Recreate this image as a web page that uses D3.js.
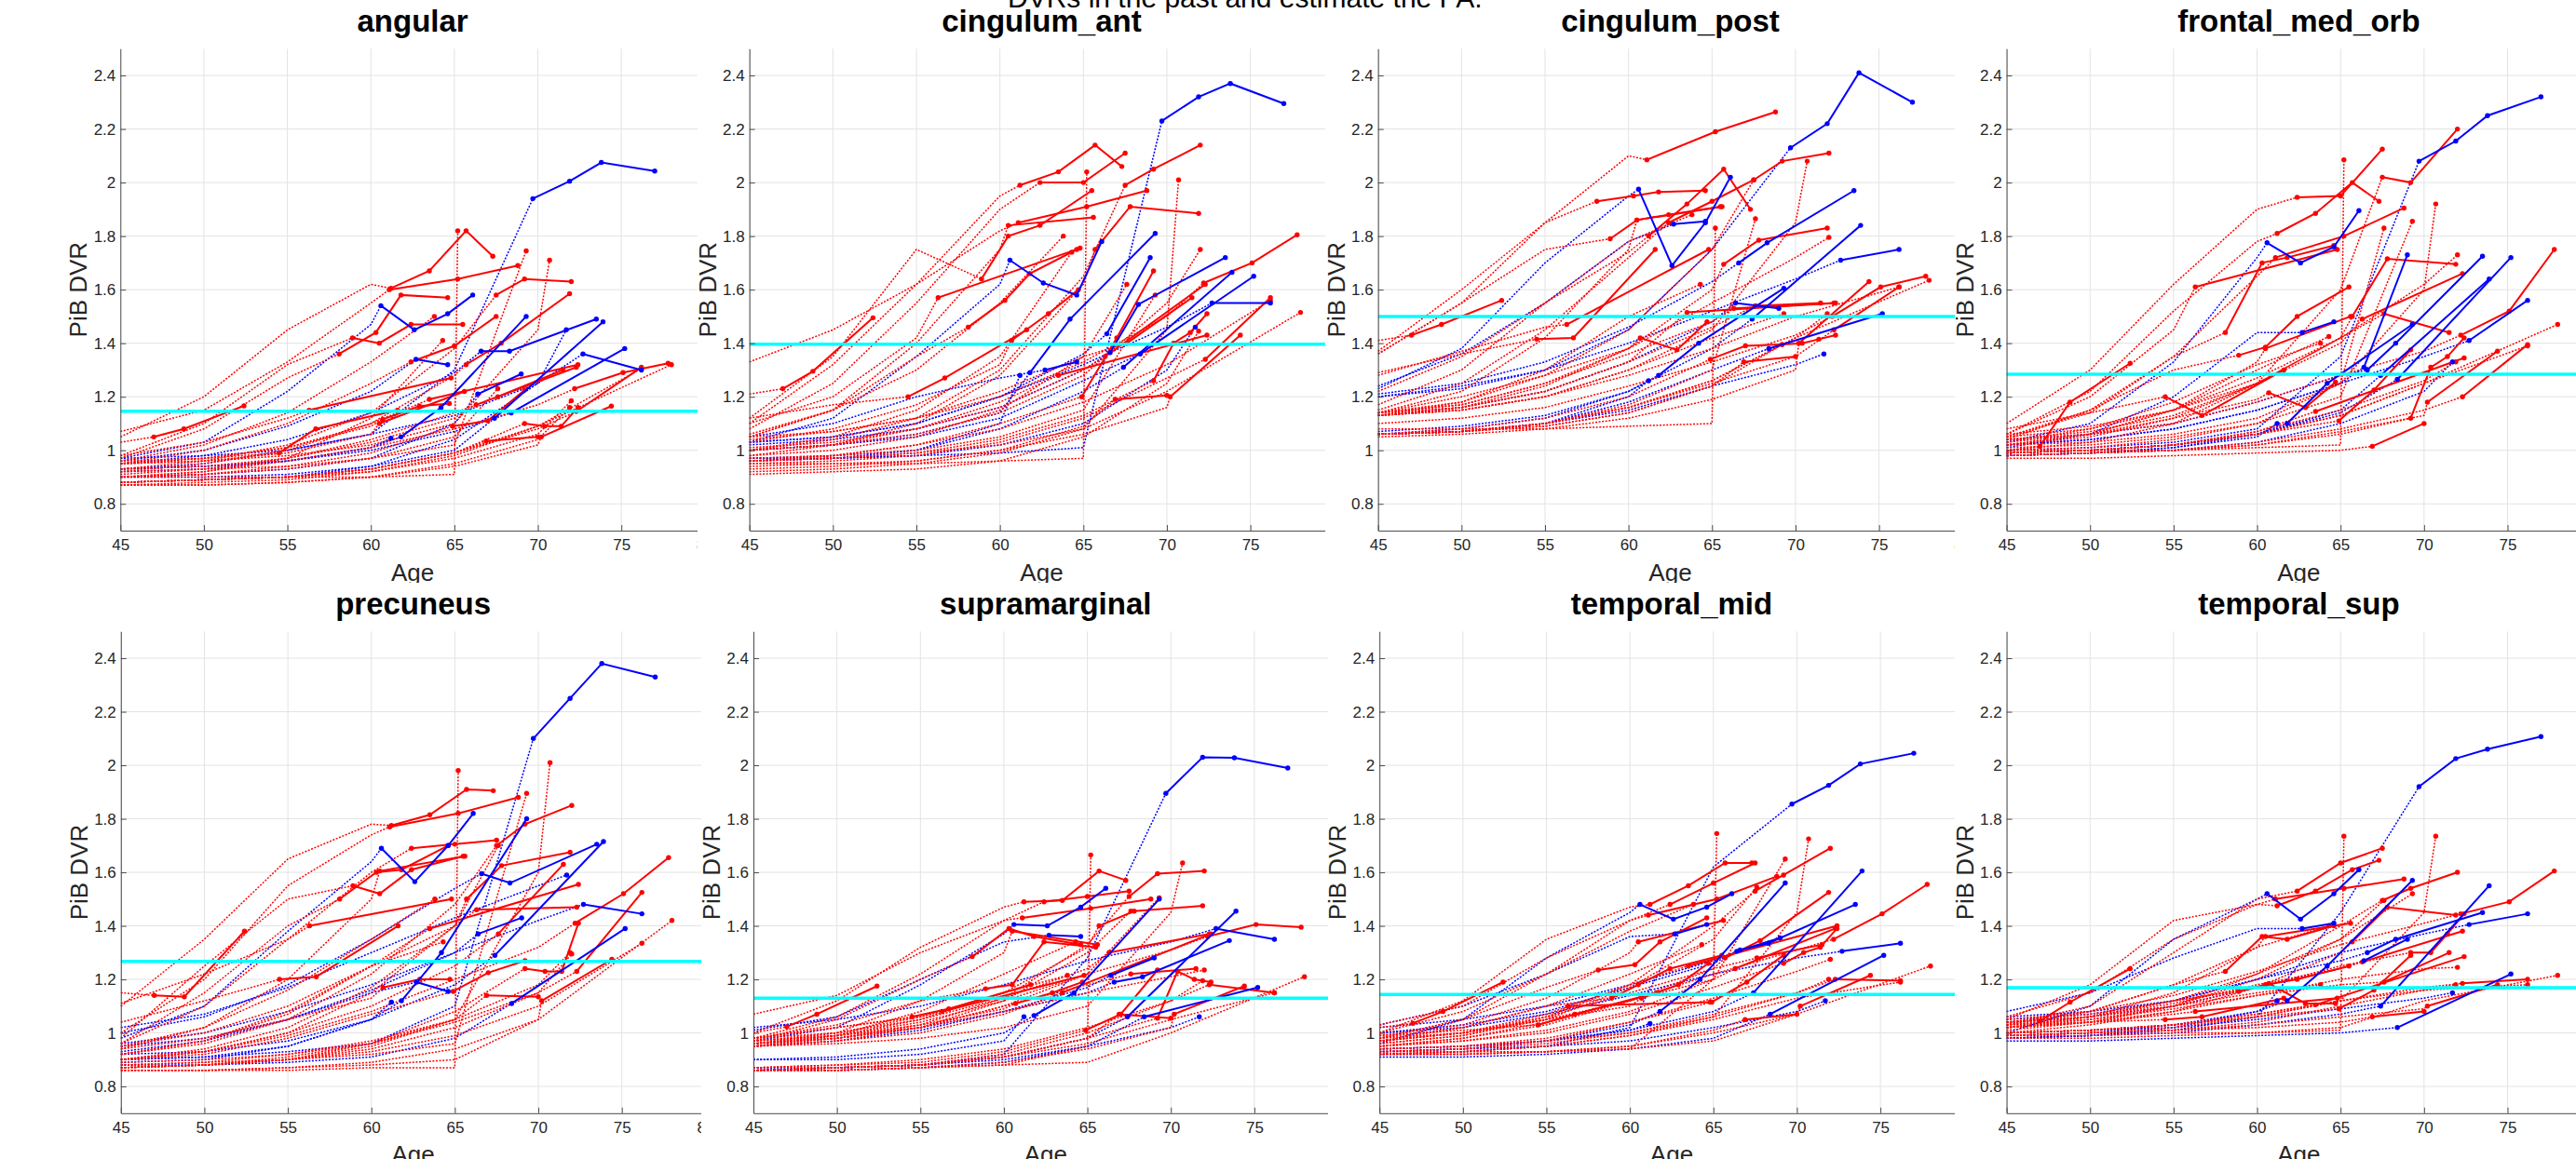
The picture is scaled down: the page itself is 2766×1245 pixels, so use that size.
<!DOCTYPE html>
<html><head><meta charset="utf-8">
<script src="https://cdn.jsdelivr.net/npm/d3@7"></script>
<style>html,body{margin:0;padding:0;background:#fff;overflow:hidden}svg{display:block}</style>
</head><body>
<svg id="chart" width="2766" height="1245"></svg>
<script>
// ---------------- DATA ----------------
const regions = ["angular","cingulum_ant","cingulum_post","frontal_med_orb","precuneus","supramarginal","temporal_mid","temporal_sup"];
const thresholds = [1.146,1.396,1.50,1.284,1.267,1.130,1.144,1.169];
const xTicks = [45,50,55,60,65,70,75,80];
const yTicks = [0.8,1,1.2,1.4,1.6,1.8,2,2.2,2.4];
const knotAges = [45,50,55,60,65,70];
const subjectColor = ["b","b","b","b","b","b","b","b","b","b","b",
  "r","r","r","r","r","r","r","r","r","r","r","r","r","r","r","r","r","r","r","r","r","r","r","r","r","r","r","r","r","r","r"];
const visitAges = [
[69.7,71.9,73.8,77.0],[60.6,62.6,64.6,66.1],[61.8,64.2,69.3],[66.4,69.0],[66.6,68.3,73.5],[67.4,73.9],[68.4,75.2],[72.7,76.2],[62.7,64.6],[61.2],[71.7],
[47.0,48.8,52.4],[54.5,56.7,61.6],[56.3,64.8],[58.1,60.3,61.8,64.6],[58.9,60.5,62.4,65.5],[61.2,63.5,65.7,67.3],[61.1,65.2,68.8],[62.4,65.0,67.5],[60.5,65.6],[67.5,69.2,72.0],
[65.7,67.8,71.9],[63.5,72.4],[66.9,70.0],[69.2,70.4,71.4,72.4],[70.2,74.4],[72.2,75.1,77.8],[72.3,76.2],[64.9,67.0,69.2],[60.7,62.9,64.7],[64.3],
[65.2],[63.8],[67.6],[69.3],[70.7],[72.0],[71.9],[78.0],[76.2],[66.3,72.3],[67.6,71.5]];

// estimated past trajectories (values at knotAges before first visit)
const angularPast = [
[0.97,0.98,1.00,1.06,1.30],[0.97,1.03,1.22,1.47],[0.92,0.93,0.96,1.01],[0.90,0.91,0.93,0.97,1.10],[0.95,0.98,1.04,1.14,1.29],[0.90,0.90,0.91,0.94,1.00],[0.93,0.94,0.96,1.00,1.07],[0.93,0.95,1.00,1.06,1.13,1.25],[0.96,1.00,1.09,1.22],[0.93,0.94,0.96,1.01],[0.88,0.89,0.90,0.94,1.04,1.25],
[1.03],[0.96,0.97],[0.98,1.03,1.12],[0.97,1.08,1.27],[0.98,1.10,1.32],[1.05,1.20,1.45,1.62],[1.07,1.15,1.33,1.55],[0.95,1.00,1.10,1.25],[0.95,0.96,0.99,1.06],[0.93,0.96,1.02,1.14,1.38],
[0.92,0.95,1.00,1.10,1.28],[0.95,0.97,1.01,1.10],[0.88,0.89,0.90,0.93,0.99],[0.88,0.89,0.90,0.93,0.99],[0.87,0.87,0.88,0.90,0.94,1.02],[0.90,0.92,0.96,1.01,1.08,1.17],[0.88,0.89,0.90,0.93,0.99,1.08],[0.90,0.91,0.94,0.99],[0.95,0.97,1.01,1.09],[0.90,0.92,0.97,1.12],
[0.90,0.90,0.90,0.90,0.91],[0.96,1.02,1.14,1.33],[0.90,0.91,0.93,0.97,1.05],[0.92,0.93,0.94,0.97,1.02],[0.95,0.96,0.98,1.02,1.10,1.45],[0.88,0.89,0.90,0.92,0.97,1.06],[0.87,0.87,0.88,0.90,0.95,1.04],[0.88,0.89,0.90,0.93,0.99,1.09],[0.87,0.88,0.89,0.92,0.98,1.09],[0.93,0.94,0.97,1.03,1.12],[0.91,0.93,0.97,1.04,1.14]];
const angularObs = [
[1.94,2.005,2.075,2.043],[1.54,1.45,1.51,1.58],[1.05,1.16,1.50],[1.21,1.285],[1.37,1.37,1.49],[1.12,1.48],[1.14,1.38],[1.36,1.30],[1.34,1.32],[1.045],[1.45],
[1.05,1.08,1.166],[0.99,1.08,1.15],[1.15,1.27],[1.36,1.44,1.58,1.57],[1.42,1.40,1.47,1.47],[1.605,1.67,1.82,1.725],[1.60,1.64,1.69],[1.33,1.39,1.50],[1.10,1.22],[1.58,1.64,1.63],
[1.32,1.40,1.585],[1.19,1.32],[1.035,1.05],[1.10,1.09,1.09,1.16],[1.05,1.165],[1.23,1.29,1.325],[1.145,1.31],[1.09,1.11,1.225],[1.115,1.165,1.175],[1.41],
[1.82],[1.50],[1.23],[1.745],[1.71],[1.185],[1.16],[1.32],[1.305],[1.17,1.31],[1.20,1.30]];

const cingAntPast = [
[0.97,0.97,0.98,0.99,1.01],[1.03,1.12,1.35,1.62],[1.00,1.02,1.06,1.14],[1.03,1.05,1.10,1.20,1.36],[1.02,1.04,1.08,1.16,1.30],[0.97,0.98,1.00,1.08,1.22],[1.00,1.02,1.05,1.12,1.26],[1.03,1.05,1.10,1.20,1.32,1.46],[1.05,1.10,1.20,1.27],[0.96,0.97,1.00,1.10],[0.96,0.97,0.98,1.02,1.10,1.30],
[1.21],[1.12,1.17],[1.10,1.20,1.42],[1.05,1.15,1.35],[1.12,1.35,1.75],[1.10,1.32,1.62,1.95],[1.33,1.45,1.62,1.82],[1.08,1.25,1.55,1.90],[1.05,1.15,1.40,1.75],[1.00,1.04,1.12,1.30,1.65],
[0.98,1.02,1.10,1.28,1.62],[1.00,1.02,1.08,1.18],[0.94,0.95,0.96,1.00,1.09],[0.96,0.97,0.99,1.04,1.13],[0.93,0.94,0.96,1.00,1.06,1.16],[1.05,1.07,1.12,1.20,1.33,1.50],[0.95,0.96,0.98,1.03,1.12,1.27],[0.96,0.98,1.02,1.10],[1.03,1.08,1.17,1.32],[1.00,1.05,1.15,1.35],
[0.95,0.95,0.95,0.96,0.97],[1.06,1.15,1.30,1.55],[0.98,1.00,1.05,1.15,1.35],[0.97,0.98,1.00,1.05,1.15],[0.96,0.97,0.99,1.02,1.08,1.45],[1.00,1.02,1.06,1.14,1.28,1.55],[0.91,0.92,0.93,0.96,1.05,1.25],[0.92,0.93,0.95,0.99,1.08,1.22],[0.96,0.98,1.02,1.08,1.18,1.32],[1.01,1.03,1.08,1.16,1.30],[1.04,1.07,1.12,1.22,1.35]];
const cingAntObs = [
[2.23,2.32,2.37,2.295],[1.71,1.625,1.58,1.78],[1.29,1.49,1.81],[1.435,1.72],[1.365,1.545,1.72],[1.31,1.665],[1.36,1.65],[1.55,1.55],[1.30,1.33],[1.28],[1.46],
[1.23,1.295,1.495],[1.20,1.27,1.45],[1.57,1.755],[1.46,1.56,1.66,1.75],[1.64,1.80,1.84,1.97],[1.99,2.04,2.14,2.06],[1.85,1.91,1.97],[2.00,2.00,2.11],[1.84,1.87],[1.99,2.05,2.14],
[1.75,1.91,1.885],[1.28,1.43],[1.19,1.205],[1.26,1.40,1.44,1.51],[1.20,1.43],[1.625,1.70,1.805],[1.34,1.57],[1.20,1.42,1.67],[1.41,1.51,1.60],[1.74],
[2.04],[1.80],[1.62],[1.58],[2.01],[1.75],[1.445],[1.515],[1.56],[1.35,1.62],[1.40,1.57]];

const cingPostPast = [
[1.20,1.23,1.30,1.45,1.75],[1.23,1.38,1.70,1.95],[1.06,1.08,1.12,1.22],[1.13,1.16,1.22,1.33,1.48],[1.21,1.25,1.33,1.46,1.63],[1.07,1.09,1.13,1.22,1.38],[1.06,1.07,1.10,1.18,1.30],[1.20,1.24,1.30,1.40,1.52,1.64],[1.24,1.36,1.55,1.78],[1.06,1.07,1.10,1.20],[1.06,1.07,1.10,1.15,1.24,1.32],
[1.41],[1.29,1.36],[1.28,1.37,1.46],[1.37,1.60,1.85],[1.36,1.55,1.75],[1.17,1.30,1.55,1.74],[1.36,1.55,1.85,2.10],[1.15,1.25,1.45,1.72],[1.14,1.22,1.42,1.75],[1.14,1.18,1.28,1.45,1.75],
[1.13,1.16,1.24,1.38,1.60],[1.13,1.16,1.22,1.33],[1.06,1.07,1.09,1.14,1.24],[1.06,1.07,1.09,1.14,1.24],[1.05,1.06,1.08,1.12,1.19,1.30],[1.10,1.12,1.16,1.24,1.33,1.43],[1.06,1.07,1.10,1.16,1.25,1.35],[1.06,1.08,1.12,1.20],[1.14,1.20,1.28,1.38],[1.13,1.18,1.30,1.50],
[1.08,1.08,1.08,1.09,1.10],[1.22,1.35,1.55,1.78],[1.06,1.07,1.10,1.17,1.30],[1.13,1.15,1.20,1.30,1.42],[1.13,1.15,1.20,1.30,1.45,1.85],[1.14,1.17,1.25,1.38,1.55,1.72],[1.06,1.07,1.10,1.16,1.26,1.42],[1.06,1.07,1.10,1.16,1.26,1.42],[1.13,1.15,1.20,1.28,1.38,1.50],[1.14,1.17,1.25,1.36,1.48],[1.14,1.16,1.22,1.33,1.46]];
const cingPostObs = [
[2.13,2.22,2.41,2.30],[1.975,1.69,1.85,2.02],[1.28,1.40,1.605],[1.55,1.53],[1.70,1.775,1.97],[1.49,1.84],[1.38,1.51],[1.71,1.75],[1.845,1.855],[1.26],[1.36],
[1.43,1.47,1.56],[1.415,1.42,1.75],[1.47,1.75],[1.93,1.95,1.965,1.97],[1.79,1.86,1.88,1.91],[1.80,1.92,2.05,1.90],[2.085,2.19,2.264],[1.85,1.93,2.01],[1.86,1.91],[2.01,2.08,2.11],
[1.695,1.785,1.83],[1.515,1.55],[1.33,1.35],[1.395,1.40,1.415,1.43],[1.40,1.63],[1.50,1.61,1.65],[1.45,1.61],[1.34,1.39,1.395],[1.42,1.375,1.48],[1.62],
[1.83],[1.88],[1.865],[1.51],[2.08],[1.795],[1.51],[1.635],[1.61],[1.53,1.55],[1.54,1.55]];

const frontalPast = [
[1.00,1.01,1.03,1.08,1.35],[1.03,1.10,1.33,1.72],[0.99,1.00,1.02,1.06],[1.02,1.04,1.08,1.15,1.25],[1.04,1.06,1.10,1.18,1.28],[0.98,0.99,1.01,1.06,1.15],[0.99,1.00,1.02,1.06,1.14],[1.02,1.04,1.08,1.15,1.25,1.35],[1.01,1.06,1.20,1.44],[0.98,0.99,1.01,1.05],[0.98,0.99,1.00,1.03,1.10,1.22],
[1.00],[1.08,1.14],[1.06,1.20,1.45],[1.04,1.15,1.35],[1.05,1.15,1.30],[1.06,1.22,1.52,1.78],[1.05,1.14,1.35,1.65],[1.10,1.30,1.62,1.90],[1.02,1.06,1.15,1.33],[1.00,1.03,1.10,1.25,1.60],
[1.02,1.05,1.12,1.25,1.42],[0.99,1.00,1.02,1.07],[0.97,0.97,0.98,0.99,1.00],[0.98,0.99,1.00,1.02,1.06],[0.98,0.99,1.00,1.02,1.07,1.13],[1.04,1.06,1.10,1.18,1.28,1.37],[0.98,0.99,1.00,1.03,1.08,1.15],[0.99,1.00,1.02,1.06],[1.03,1.06,1.12,1.19],[1.02,1.06,1.15,1.30],
[1.00,1.00,1.00,1.01,1.02],[1.03,1.08,1.18,1.32],[1.00,1.01,1.04,1.10,1.25],[1.01,1.02,1.05,1.10,1.20],[1.02,1.03,1.06,1.12,1.25,1.60],[1.05,1.08,1.15,1.27,1.42,1.62],[0.99,1.00,1.02,1.07,1.15,1.26],[0.99,1.00,1.02,1.06,1.13,1.25],[0.99,1.00,1.02,1.06,1.13,1.25],[1.06,1.09,1.15,1.25,1.40],[1.04,1.07,1.13,1.25,1.42]];
const frontalObs = [
[2.08,2.155,2.25,2.32],[1.775,1.70,1.76,1.895],[1.10,1.25,1.47],[1.31,1.73],[1.30,1.40,1.725],[1.28,1.64],[1.265,1.72],[1.41,1.56],[1.44,1.48],[1.10],[1.33],
[1.015,1.18,1.325],[1.20,1.13,1.30],[1.61,1.75],[1.44,1.70,1.72,1.765],[1.355,1.385,1.50,1.61],[1.81,1.885,2.00,1.93],[1.72,1.80,1.905],[1.945,1.95,2.125],[1.38,1.50],[2.02,2.00,2.20],
[1.50,1.715,1.695],[1.145,1.345],[1.015,1.10],[1.12,1.31,1.35,1.42],[1.18,1.37],[1.43,1.52,1.75],[1.20,1.395],[1.11,1.225,1.375],[1.215,1.16,1.255],[1.425],
[2.085],[1.40],[1.83],[1.855],[1.92],[1.73],[1.33],[1.47],[1.39],[1.49,1.66],[1.51,1.44]];

const precuneusPast = [
[0.90,0.91,0.93,0.96,1.10],[0.98,1.10,1.38,1.64],[0.90,0.91,0.95,1.05],[0.95,0.98,1.05,1.16,1.30],[1.00,1.06,1.18,1.35,1.54],[0.92,0.93,0.97,1.05,1.18],[0.88,0.88,0.89,0.91,0.98],[0.96,1.00,1.08,1.18,1.30,1.42],[0.93,0.97,1.05,1.15],[0.89,0.90,0.95,1.05],[1.02,1.07,1.17,1.30,1.43,1.55],
[1.15],[1.04,1.12],[1.11,1.22,1.35],[0.96,1.15,1.40],[0.98,1.25,1.50],[1.10,1.35,1.65,1.78],[1.00,1.20,1.55,1.74],[0.96,1.10,1.35,1.60],[0.94,1.02,1.20,1.50],[0.92,0.96,1.05,1.22,1.48],
[0.90,0.94,1.02,1.17,1.40],[0.92,0.97,1.07,1.25],[0.87,0.88,0.90,0.95,1.05],[0.87,0.88,0.90,0.96,1.08],[0.86,0.86,0.87,0.89,0.94,1.05],[0.90,0.93,0.99,1.08,1.20,1.32],[0.87,0.88,0.91,0.96,1.04,1.15],[0.90,0.92,0.98,1.07],[0.94,0.98,1.05,1.13],[0.92,0.97,1.08,1.25],
[0.86,0.86,0.86,0.87,0.87],[0.95,1.02,1.16,1.35],[0.90,0.93,1.00,1.15,1.40],[0.88,0.89,0.90,0.92,0.96],[0.89,0.90,0.92,0.96,1.05,1.60],[0.87,0.88,0.90,0.94,1.02,1.15],[0.88,0.89,0.92,0.97,1.05,1.18],[0.86,0.86,0.87,0.88,0.90,1.05],[0.87,0.88,0.90,0.93,0.99,1.10],[0.95,1.00,1.10,1.25,1.40],[0.90,0.93,1.00,1.10,1.25]];
const precuneusObs = [
[2.10,2.25,2.38,2.33],[1.69,1.565,1.70,1.82],[1.12,1.30,1.80],[1.37,1.43],[1.595,1.56,1.705],[1.29,1.715],[1.11,1.39],[1.48,1.445],[1.19,1.155],[1.115],[1.59],
[1.14,1.135,1.38],[1.20,1.21,1.40],[1.40,1.50],[1.50,1.60,1.61,1.70],[1.55,1.52,1.61,1.66],[1.775,1.815,1.91,1.905],[1.77,1.82,1.88],[1.69,1.705,1.72],[1.605,1.66],[1.70,1.78,1.85],
[1.50,1.625,1.675],[1.39,1.555],[1.14,1.135],[1.24,1.23,1.23,1.41],[1.12,1.275],[1.41,1.52,1.655],[1.23,1.525],[1.155,1.225,1.27],[1.17,1.20,1.20],[1.34],
[1.98],[1.50],[1.70],[1.895],[2.01],[1.295],[1.30],[1.42],[1.335],[1.46,1.47],[1.37,1.63]];

const supraPast = [
[0.87,0.87,0.88,0.92,1.28],[0.97,1.02,1.18,1.37],[0.90,0.91,0.94,1.00],[0.95,0.97,1.01,1.08,1.17],[0.96,0.98,1.02,1.08,1.15],[0.86,0.87,0.88,0.91,0.98],[0.86,0.86,0.87,0.89,0.95],[1.02,1.05,1.10,1.18,1.27,1.34],[1.01,1.06,1.20,1.34],[0.90,0.90,0.92,0.97],[0.86,0.87,0.88,0.90,0.95,1.02],
[1.00],[0.98,1.02],[0.98,1.02,1.06],[0.97,1.05,1.20],[0.98,1.03,1.12],[1.00,1.12,1.32,1.47],[1.07,1.14,1.30,1.42],[0.98,1.06,1.22,1.42],[0.96,1.00,1.12,1.30],[0.95,0.98,1.03,1.13,1.33],
[0.96,0.99,1.05,1.15,1.32],[0.95,0.97,1.00,1.07],[0.86,0.87,0.88,0.91,0.98],[0.86,0.87,0.88,0.91,0.98],[0.86,0.86,0.87,0.89,0.94,1.02],[0.96,0.99,1.04,1.12,1.22,1.31],[0.87,0.88,0.90,0.94,1.02,1.12],[0.87,0.88,0.89,0.93],[0.97,0.99,1.03,1.09],[0.95,0.99,1.08,1.22],
[0.86,0.86,0.87,0.88,0.95],[0.97,1.00,1.06,1.15],[0.95,0.97,1.02,1.12,1.30],[0.96,0.98,1.02,1.10,1.22],[0.95,0.96,0.98,1.02,1.10,1.45],[0.97,0.99,1.02,1.08,1.15,1.21],[0.86,0.87,0.88,0.92,1.00,1.12],[0.86,0.86,0.87,0.88,0.89,1.00],[0.86,0.87,0.88,0.91,0.96,1.05],[0.98,1.00,1.05,1.13,1.24],[0.96,0.98,1.02,1.10,1.18]];
const supraObs = [
[1.895,2.03,2.028,1.99],[1.405,1.40,1.47,1.54],[1.065,1.15,1.50],[1.215,1.28],[1.19,1.21,1.345],[1.06,1.455],[1.06,1.17],[1.39,1.35],[1.365,1.36],[1.06],[1.06],
[1.023,1.07,1.175],[1.06,1.09,1.18],[1.08,1.215],[1.285,1.39,1.36,1.33],[1.165,1.18,1.34,1.32],[1.49,1.495,1.605,1.57],[1.43,1.465,1.50],[1.49,1.51,1.53],[1.38,1.33],[1.51,1.595,1.605],
[1.40,1.455,1.475],[1.15,1.37],[1.07,1.055],[1.055,1.23,1.20,1.19],[1.07,1.175],[1.36,1.405,1.395],[1.18,1.15],[1.01,1.07,1.235],[1.11,1.15,1.19],[1.34],
[1.665],[1.215],[1.455],[1.505],[1.635],[1.235],[1.195],[1.21],[1.15],[1.30,1.37],[1.22,1.24]];

const tempMidPast = [
[0.92,0.93,0.95,1.02,1.62],[0.96,1.05,1.28,1.45],[0.93,0.94,0.97,1.03],[1.00,1.03,1.08,1.17,1.26],[1.02,1.05,1.10,1.18,1.27],[0.94,0.95,0.97,1.01,1.08],[0.91,0.91,0.92,0.94,0.98],[1.00,1.02,1.07,1.14,1.22,1.28],[1.03,1.10,1.22,1.36],[0.94,0.95,0.97,1.01],[0.93,0.94,0.95,0.97,1.02,1.08],
[1.02],[0.99,1.01],[0.97,1.00,1.05],[0.98,1.05,1.17],[0.97,1.02,1.10],[1.00,1.12,1.35,1.47],[1.03,1.10,1.28,1.42],[0.98,1.05,1.22,1.42],[0.99,1.03,1.13,1.30],[0.96,0.99,1.06,1.18,1.40],
[0.95,0.98,1.03,1.12,1.24],[0.97,1.00,1.07,1.18],[0.92,0.92,0.93,0.95,1.01],[0.95,0.97,1.00,1.07,1.17],[0.92,0.92,0.93,0.95,1.00,1.07],[0.98,1.00,1.05,1.12,1.22,1.31],[0.93,0.94,0.96,1.00,1.07,1.15],[0.93,0.94,0.97,1.04],[0.97,1.00,1.05,1.10],[0.98,1.02,1.10,1.22],
[0.93,0.93,0.93,0.94,1.20],[1.00,1.08,1.22,1.38],[0.96,0.99,1.05,1.17,1.35],[0.95,0.97,1.01,1.08,1.20],[0.94,0.95,0.97,1.00,1.06,1.45],[0.94,0.95,0.98,1.04,1.13,1.23],[0.92,0.93,0.95,0.99,1.06,1.15],[0.92,0.92,0.93,0.94,0.97,1.07],[0.92,0.93,0.95,0.99,1.05,1.13],[0.95,0.98,1.04,1.12,1.20],[0.97,1.00,1.06,1.15,1.24]];
const tempMidObs = [
[1.855,1.925,2.005,2.045],[1.48,1.425,1.47,1.52],[1.08,1.20,1.56],[1.305,1.355],[1.31,1.335,1.48],[1.15,1.605],[1.07,1.29],[1.305,1.335],[1.37,1.405],[1.035],[1.12],
[1.036,1.08,1.19],[1.03,1.07,1.15],[1.10,1.115],[1.235,1.255,1.34,1.43],[1.13,1.18,1.24,1.29],[1.48,1.55,1.635,1.635],[1.44,1.50,1.585],[1.48,1.56,1.635],[1.34,1.42],[1.53,1.59,1.69],
[1.28,1.345,1.525],[1.25,1.40],[1.05,1.07],[1.26,1.30,1.32,1.39],[1.10,1.215],[1.35,1.445,1.555],[1.20,1.195],[1.115,1.19,1.29],[1.13,1.18,1.26],[1.33],
[1.745],[1.48],[1.545],[1.65],[1.725],[1.275],[1.20],[1.25],[1.19],[1.24,1.39],[1.28,1.33]];

const tempSupPast = [
[0.98,0.99,1.01,1.06,1.45],[1.00,1.10,1.35,1.50],[0.98,0.99,1.02,1.08],[1.04,1.06,1.10,1.17,1.24],[1.06,1.08,1.12,1.20,1.27],[0.98,0.99,1.00,1.03,1.07],[0.97,0.97,0.98,0.99,1.00],[1.05,1.07,1.12,1.20,1.30,1.37],[1.08,1.15,1.28,1.39],[0.99,1.00,1.03,1.08],[1.00,1.01,1.02,1.05,1.09,1.13],
[1.04],[1.03,1.04],[1.02,1.04,1.07],[1.03,1.08,1.18],[1.02,1.06,1.12],[1.05,1.18,1.42,1.48],[1.06,1.15,1.35,1.48],[1.03,1.10,1.30,1.50],[1.02,1.06,1.15,1.32],[1.01,1.04,1.10,1.22,1.40],
[1.00,1.03,1.08,1.17,1.30],[1.00,1.01,1.03,1.07],[0.99,1.00,1.01,1.02,1.04],[1.04,1.06,1.10,1.17,1.25],[0.99,1.00,1.01,1.03,1.06,1.09],[1.05,1.08,1.14,1.23,1.33,1.41],[0.99,1.00,1.02,1.06,1.12,1.17],[1.00,1.01,1.03,1.06],[1.04,1.07,1.12,1.17],[1.04,1.08,1.18,1.32],
[0.99,0.99,1.00,1.00,1.01],[1.02,1.05,1.10,1.15],[1.02,1.04,1.10,1.20,1.35],[1.03,1.06,1.12,1.22,1.35],[1.00,1.01,1.03,1.06,1.12,1.45],[1.02,1.04,1.08,1.14,1.20,1.24],[0.99,1.00,1.01,1.04,1.10,1.16],[0.98,0.98,0.99,1.00,1.02,1.12],[1.00,1.01,1.03,1.07,1.12,1.16],[1.04,1.06,1.11,1.18,1.24],[1.03,1.05,1.09,1.14,1.18]];
const tempSupObs = [
[1.92,2.025,2.06,2.107],[1.52,1.425,1.52,1.61],[1.12,1.25,1.57],[1.27,1.35],[1.30,1.35,1.45],[1.10,1.55],[1.02,1.22],[1.405,1.445],[1.39,1.41],[1.12],[1.15],
[1.045,1.115,1.24],[1.05,1.06,1.13],[1.08,1.13],[1.23,1.36,1.35,1.40],[1.155,1.18,1.20,1.25],[1.475,1.53,1.61,1.645],[1.50,1.54,1.575],[1.53,1.635,1.69],[1.36,1.41],[1.495,1.54,1.60],
[1.34,1.47,1.44],[1.105,1.285],[1.06,1.08],[1.30,1.30,1.37,1.445],[1.10,1.18],[1.445,1.49,1.605],[1.185,1.20],[1.09,1.16,1.29],[1.185,1.11,1.11],[1.40],
[1.735],[1.18],[1.495],[1.52],[1.735],[1.245],[1.18],[1.215],[1.18],[1.265,1.38],[1.19,1.30]];

const pastByRegion = [angularPast,cingAntPast,cingPostPast,frontalPast,precuneusPast,supraPast,tempMidPast,tempSupPast];
const obsByRegion = [angularObs,cingAntObs,cingPostObs,frontalObs,precuneusObs,supraObs,tempMidObs,tempSupObs];

// ---------------- LAYOUT ----------------
const W = 2766, H = 1245;
const axisLeft = [[129.3,804.7,1479.7,2154.6],[129.8,809.0,1481.2,2154.6]];
const clipRight = [[749,1423,2099,2766],[753,1426,2099,2766]];
const rowBottom = [570, 1195.8], rowTop = [52.3, 678.3];
const rowClip = [[0,626],[626,1245]];
const FONT = "'Liberation Sans', Arial, Helvetica, sans-serif";
const COL = {r:"#ff0000", b:"#0000ff"};

const svg = d3.select("#chart");
svg.append("rect").attr("width",W).attr("height",H).attr("fill","#fff");
const defs = svg.append("defs");

svg.append("text").attr("x",1082).attr("y",8).attr("font-family",FONT).attr("font-size",30)
  .attr("fill","#000").text("DVRs in the past and estimate the PA.");

regions.forEach((name, pi) => {
  const row = Math.floor(pi/4), col = pi % 4;
  const x0 = axisLeft[row][col];
  const x = d3.scaleLinear().domain([45,80]).range([x0, x0 + 35*17.93]);
  const y = d3.scaleLinear().domain([0.7,2.5]).range([rowBottom[row], rowTop[row]]);
  const cid = "clip" + pi;
  defs.append("clipPath").attr("id",cid).append("rect")
    .attr("x", x0 - 130).attr("y", rowClip[row][0])
    .attr("width", clipRight[row][col] - (x0 - 130)).attr("height", rowClip[row][1]-rowClip[row][0]);
  const g = svg.append("g").attr("clip-path", `url(#${cid})`);

  // grid
  g.append("g").selectAll("line").data(xTicks).join("line")
    .attr("x1", d=>x(d)).attr("x2", d=>x(d)).attr("y1", y(0.7)).attr("y2", y(2.5))
    .attr("stroke","#e3e3e3").attr("stroke-width",1);
  g.append("g").selectAll("line").data(yTicks).join("line")
    .attr("x1", x(45)).attr("x2", x(80)).attr("y1", d=>y(d)).attr("y2", d=>y(d))
    .attr("stroke","#e3e3e3").attr("stroke-width",1);

  const past = pastByRegion[pi], obs = obsByRegion[pi];
  const line = d3.line().x(d=>x(d[0])).y(d=>y(d[1]));
  const lines = g.append("g").attr("fill","none");

  // estimated past trajectories (dotted)
  visitAges.forEach((ages, i) => {
    const kn = knotAges.filter(a => a < ages[0]);
    const n = Math.min(kn.length, past[i].length);
    const pts = kn.slice(0,n).map((a,k)=>[a, past[i][k]]);
    pts.push([ages[0], obs[i][0]]);
    lines.append("path").attr("d", line(pts)).attr("stroke", COL[subjectColor[i]])
      .attr("stroke-width",1.5).attr("stroke-dasharray","2,1.6");
  });
  // observed (solid + markers), red first then blue
  ["r","b"].forEach(c => {
    visitAges.forEach((ages, i) => {
      if (subjectColor[i] !== c) return;
      const pts = ages.map((a,k)=>[a, obs[i][k]]);
      if (pts.length > 1) lines.append("path").attr("d", line(pts)).attr("stroke", COL[c]).attr("stroke-width",2);
      lines.selectAll(null).data(pts).join("circle").attr("cx",d=>x(d[0])).attr("cy",d=>y(d[1]))
        .attr("r",2.7).attr("fill",COL[c]);
    });
  });

  // threshold
  g.append("line").attr("x1",x(45)).attr("x2",x(80)).attr("y1",y(thresholds[pi])).attr("y2",y(thresholds[pi]))
    .attr("stroke","#00ffff").attr("stroke-width",3.5);

  // axes
  const ax = g.append("g").attr("transform",`translate(0,${y(0.7)})`)
    .call(d3.axisBottom(x).tickValues(xTicks).tickFormat(d3.format("d")).tickSize(-6).tickSizeOuter(0).tickPadding(9));
  const ay = g.append("g").attr("transform",`translate(${x(45)},0)`)
    .call(d3.axisLeft(y).tickValues(yTicks).tickFormat(d=>String(+d.toFixed(1))).tickSize(-6).tickSizeOuter(0).tickPadding(5));
  [ax, ay].forEach(a => {
    a.attr("font-family",FONT).attr("font-size",17);
    a.selectAll("path").attr("stroke","#4d4d4d");
    a.selectAll("line").attr("stroke","#4d4d4d");
    a.selectAll("text").attr("fill","#262626");
  });

  // labels
  const cx = (x(45)+x(80))/2, cy = (y(0.7)+y(2.5))/2;
  g.append("text").attr("x",cx).attr("y",y(0.7)+53.5).attr("text-anchor","middle")
    .attr("font-family",FONT).attr("font-size",26).attr("fill","#262626").text("Age");
  g.append("text").attr("transform",`translate(${x0-36},${cy}) rotate(-90)`).attr("text-anchor","middle")
    .attr("font-family",FONT).attr("font-size",26).attr("fill","#262626").text("PiB DVR");
  g.append("text").attr("x",cx).attr("y",y(2.5)-(row ? 18 : 18)).attr("text-anchor","middle")
    .attr("font-family",FONT).attr("font-size",33).attr("font-weight","bold").attr("fill","#000").text(name);
});
</script>
</body></html>
